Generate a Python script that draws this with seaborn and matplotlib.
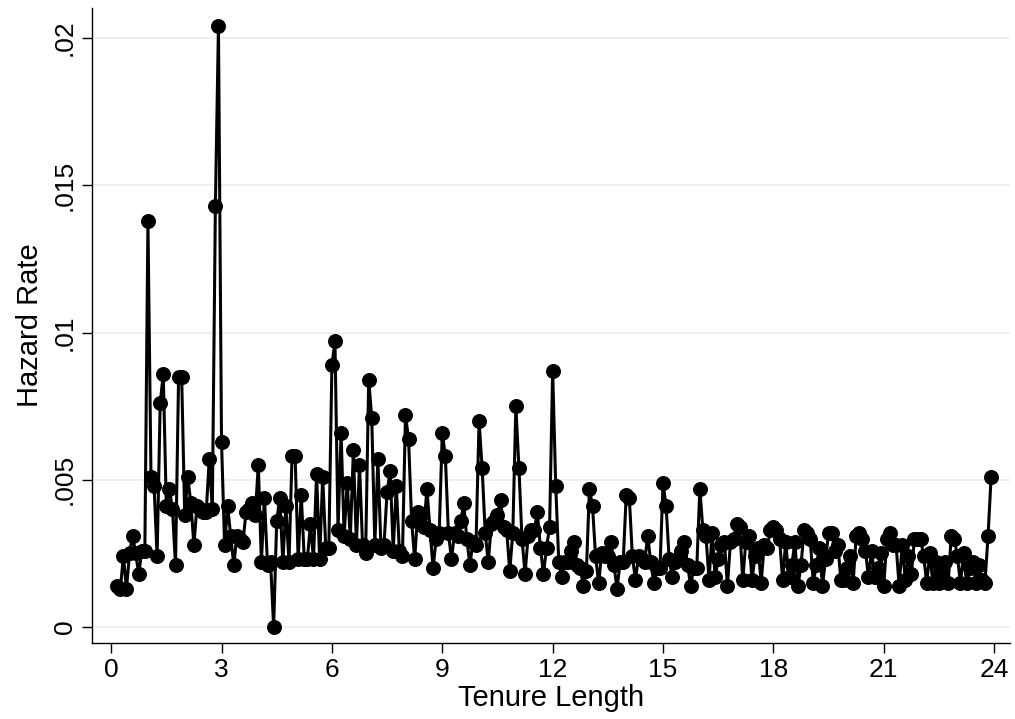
import numpy as np
import pandas as pd
import matplotlib
matplotlib.use("Agg")
import matplotlib.pyplot as plt
import seaborn as sns

# Hazard rate by month of tenure (x = month/12)
months = list(range(2, 288))
year0 = [.0014, .0013, .0024, .0013, .0025, .0031, .0025, .0018, .0026, .0026]
year1 = [.0138, .0051, .0048, .0024, .0076, .0086, .0041, .0047, .0040, .0021, .0085, .0085]
year2 = [.0038, .0051, .0042, .0028, .0041, .0040, .0039, .0039, .0057, .0040, .0143, .0204]
year3 = [.0063, .0028, .0041, .0031, .0021, .0031, .0030, .0029, .0039, .0040, .0042, .0038]
year4 = [.0055, .0022, .0044, .0021, .0022, .0000, .0036, .0044, .0022, .0041, .0022, .0058]
year5 = [.0058, .0023, .0045, .0023, .0023, .0035, .0023, .0052, .0023, .0051, .0027, .0027]
year6 = [.0089, .0097, .0033, .0066, .0031, .0049, .0030, .0060, .0028, .0055, .0028, .0025]
year7 = [.0084, .0071, .0028, .0057, .0027, .0028, .0046, .0053, .0026, .0048, .0026, .0024]
year8 = [.0072, .0064, .0036, .0023, .0039, .0038, .0034, .0047, .0033, .0020, .0030, .0032]
year9 = [.0066, .0058, .0032, .0023, .0032, .0031, .0036, .0042, .0030, .0021, .0029, .0028]
year10 = [.0070, .0054, .0032, .0022, .0035, .0036, .0038, .0043, .0034, .0033, .0019, .0032]
year11 = [.0075, .0054, .0030, .0018, .0031, .0033, .0033, .0039, .0027, .0018, .0027, .0034]
year12 = [.0087, .0048, .0022, .0017, .0022, .0022, .0026, .0029, .0021, .0020, .0014, .0019]
year13 = [.0047, .0041, .0024, .0015, .0025, .0024, .0024, .0029, .0021, .0013, .0022, .0022]
year14 = [.0045, .0044, .0024, .0016, .0024, .0023, .0022, .0031, .0022, .0015, .0020, .0020]
year15 = [.0049, .0041, .0023, .0017, .0022, .0023, .0026, .0029, .0021, .0014, .0020, .0020]
year16 = [.0047, .0033, .0031, .0016, .0032, .0017, .0023, .0028, .0029, .0014, .0029, .0030]
year17 = [.0035, .0034, .0016, .0029, .0031, .0016, .0024, .0027, .0015, .0028, .0027, .0033]
year18 = [.0034, .0033, .0030, .0016, .0029, .0017, .0021, .0029, .0014, .0021, .0033, .0032]
year19 = [.0030, .0015, .0021, .0027, .0014, .0023, .0032, .0032, .0026, .0028, .0016, .0016]
year20 = [.0020, .0024, .0015, .0031, .0032, .0030, .0026, .0017, .0026, .0017, .0020, .0025]
year21 = [.0014, .0030, .0032, .0028, .0028, .0014, .0028, .0016, .0024, .0018, .0030, .0030]
year22 = [.0030, .0024, .0015, .0025, .0015, .0022, .0015, .0018, .0022, .0015, .0031, .0030]
year23 = [.0024, .0015, .0025, .0015, .0020, .0022, .0015, .0021, .0016, .0015, .0031, .0051]

hazard = (year0 + year1 + year2 + year3 + year4 + year5 + year6 + year7 + year8
          + year9 + year10 + year11 + year12 + year13 + year14 + year15 + year16
          + year17 + year18 + year19 + year20 + year21 + year22 + year23)

x_ticks = [0, 3, 6, 9, 12, 15, 18, 21, 24]
y_ticks = [0, 0.005, 0.01, 0.015, 0.02]
y_tick_labels = ["0", ".005", ".01", ".015", ".02"]

df = pd.DataFrame({"tenure": np.array(months) / 12.0, "hazard": hazard})

sns.set_style("white")
plt.rcParams["font.family"] = ["Liberation Sans", "DejaVu Sans"]
plt.rcParams["text.color"] = "black"
plt.rcParams["axes.labelcolor"] = "black"
plt.rcParams["xtick.color"] = "black"
plt.rcParams["ytick.color"] = "black"

fig = plt.figure(figsize=(10.15, 7.19), dpi=100)
ax = fig.add_axes([92 / 1015, 1 - 643 / 719, (1010 - 92) / 1015, (643 - 8) / 719])

sns.lineplot(data=df, x="tenure", y="hazard", ax=ax, color="black", linewidth=2.2,
             marker="o", markersize=10, markeredgecolor="black", markerfacecolor="black")

ax.set_xlim(-0.52, 24.43)
ax.set_ylim(-0.00054, 0.02102)
ax.set_xticks(x_ticks)
ax.set_xticklabels([str(t) for t in x_ticks])
ax.set_yticks(y_ticks)
ax.set_yticklabels(y_tick_labels, rotation=90, va="center")

ax.yaxis.grid(True, color="#e8eff2", linewidth=1.2)
ax.xaxis.grid(False)
ax.set_axisbelow(True)

for side in ["top", "right"]:
    ax.spines[side].set_visible(False)
for side in ["left", "bottom"]:
    ax.spines[side].set_color("black")
    ax.spines[side].set_linewidth(1.0)

ax.tick_params(axis="both", which="both", direction="out", length=7, width=1,
               color="black", labelcolor="black", labelsize=19, pad=4, left=True, bottom=True)
ax.set_xlabel("Tenure Length", fontsize=21, labelpad=1)
ax.set_ylabel("Hazard Rate", fontsize=21, labelpad=6)

fig.savefig("out.png", dpi=100)
